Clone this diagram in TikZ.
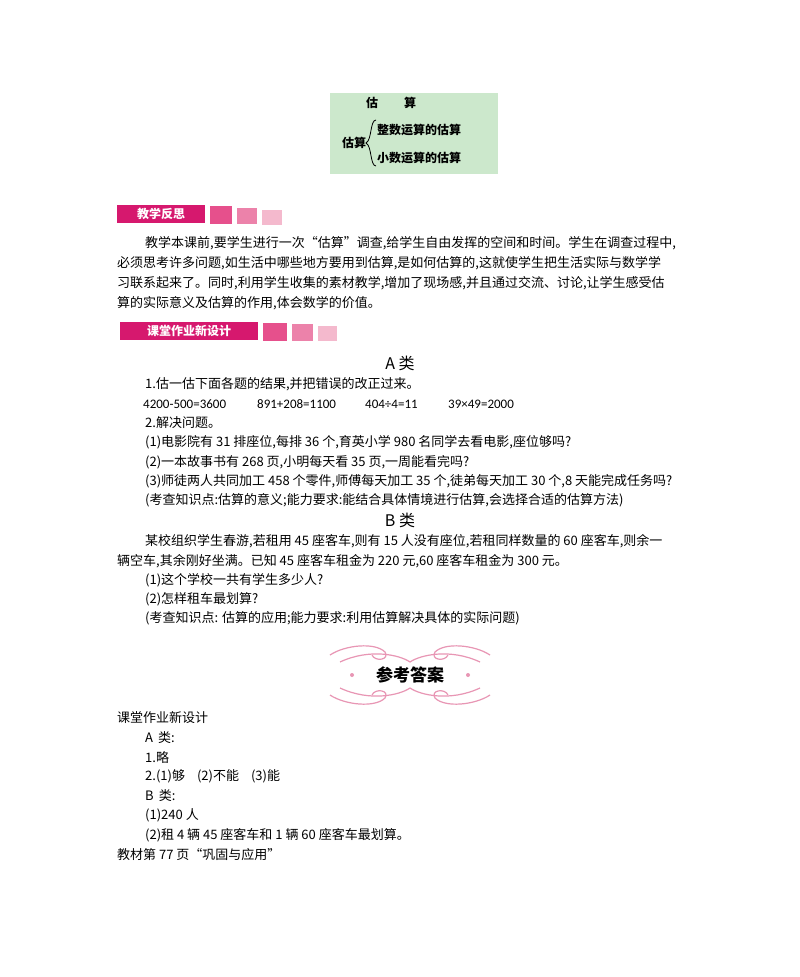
\documentclass[tikz,border=0pt]{standalone}
\usepackage{fontspec}
\setmainfont{Liberation Sans}
\newfontfamily\cjk{Noto Sans CJK SC}
\newfontfamily\carl{Carlito}
\definecolor{mag}{RGB}{214,24,110}
\definecolor{sq1}{RGB}{230,80,140}
\definecolor{sq2}{RGB}{236,130,170}
\definecolor{sq3}{RGB}{244,185,205}
\definecolor{lgreen}{RGB}{204,232,204}
\definecolor{orn}{RGB}{232,150,180}
\begin{document}
\begin{tikzpicture}[x=1pt,y=-1pt,
  txt/.style={anchor=west,inner sep=0pt,font=\cjk\fontsize{13}{15}\selectfont},
  num/.style={anchor=west,inner sep=0pt,font=\carl\fontsize{13}{15}\selectfont},
  hdr/.style={fill=mag,text=white,inner sep=0pt,font=\cjk\bfseries\fontsize{12}{14}\selectfont},
  sqa/.style={fill=sq1},sqb/.style={fill=sq2},sqc/.style={fill=sq3}]
\useasboundingbox (0,0) rectangle (800,977);
\fill[white] (0,0) rectangle (800,977);
% top box
\fill[lgreen] (330,93) rectangle (498,174);
\node[txt,font=\cjk\bfseries\fontsize{12}{14}\selectfont] (t0) at (366,103) {估};
\node[txt,font=\cjk\bfseries\fontsize{12}{14}\selectfont] (t0b) at (404,103) {算};
\node[txt,font=\cjk\bfseries\fontsize{12}{14}\selectfont] (t1) at (342,143) {估算};
\draw[thick] (376,120) .. controls (370,120) and (372,140) .. (366,143) .. controls (372,146) and (370,166) .. (376,166);
\node[txt,font=\cjk\bfseries\fontsize{12}{14}\selectfont] (t2) at (377,130) {整数运算的估算};
\node[txt,font=\cjk\bfseries\fontsize{12}{14}\selectfont] (t3) at (377,158) {小数运算的估算};
% header 1
\node[hdr,minimum width=88pt,minimum height=18pt] (h1) at (161,214) {教学反思};
\fill[sqa] (210,206) rectangle (232,224);
\fill[sqb] (237,208) rectangle (257,224);
\fill[sqc] (262,210) rectangle (282,225);
\node[txt] (p1) at (145,243) {教学本课前,要学生进行一次“估算”调查,给学生自由发挥的空间和时间。学生在调查过程中,};
\node[txt] (p2) at (117,263) {必须思考许多问题,如生活中哪些地方要用到估算,是如何估算的,这就使学生把生活实际与数学学};
\node[txt] (p3) at (117,283) {习联系起来了。同时,利用学生收集的素材教学,增加了现场感,并且通过交流、讨论,让学生感受估};
\node[txt] (p4) at (117,303) {算的实际意义及估算的作用,体会数学的价值。};
% header 2
\node[hdr,minimum width=138pt,minimum height=18pt] (h2) at (189,331) {课堂作业新设计};
\fill[sqa] (263,323) rectangle (287,341);
\fill[sqb] (292,324) rectangle (313,341);
\fill[sqc] (318,326) rectangle (337,341);
\node[font=\cjk\fontsize{16}{18}\selectfont] (a) at (400,363) {A 类};
\node[txt] (a1) at (145,384) {1.估一估下面各题的结果,并把错误的改正过来。};
\node[num] (a2) at (143,404) {4200-500=3600};
\node[num] (a2b) at (257,404) {891+208=1100};
\node[num] (a2c) at (365,404) {404÷4=11};
\node[num] (a2d) at (448,404) {39×49=2000};
\node[txt] (a3) at (145,423) {2.解决问题。};
\node[txt] (a4) at (145,442) {(1)电影院有 31 排座位,每排 36 个,育英小学 980 名同学去看电影,座位够吗?};
\node[txt] (a5) at (145,462) {(2)一本故事书有 268 页,小明每天看 35 页,一周能看完吗?};
\node[txt] (a6) at (145,481) {(3)师徒两人共同加工 458 个零件,师傅每天加工 35 个,徒弟每天加工 30 个,8 天能完成任务吗?};
\node[txt] (a7) at (145,500) {(考查知识点:估算的意义;能力要求:能结合具体情境进行估算,会选择合适的估算方法)};
\node[font=\cjk\fontsize{16}{18}\selectfont] (b) at (400,520) {B 类};
\node[txt] (b1) at (145,541) {某校组织学生春游,若租用 45 座客车,则有 15 人没有座位,若租同样数量的 60 座客车,则余一};
\node[txt] (b2) at (117,561) {辆空车,其余刚好坐满。已知 45 座客车租金为 220 元,60 座客车租金为 300 元。};
\node[txt] (b3) at (145,580) {(1)这个学校一共有学生多少人?};
\node[txt] (b4) at (145,599) {(2)怎样租车最划算?};
\node[txt] (b5) at (145,618) {(考查知识点: 估算的应用;能力要求:利用估算解决具体的实际问题)};
% ornament
\node[font=\cjk\bfseries\fontsize{17}{19}\selectfont] (ck) at (410,675) {参考答案};
\begin{scope}[orn,line width=1.2pt]
\draw (340,662) .. controls (370,648) and (400,655) .. (410,662) .. controls (420,655) and (450,648) .. (480,662);
\draw (340,688) .. controls (370,702) and (400,695) .. (410,688) .. controls (420,695) and (450,702) .. (480,688);
\draw (330,655) .. controls (345,645) and (375,642) .. (385,652) .. controls (390,660) and (375,662) .. (372,655);
\draw (490,655) .. controls (475,645) and (445,642) .. (435,652) .. controls (430,660) and (445,662) .. (448,655);
\draw (330,695) .. controls (345,705) and (375,708) .. (385,698) .. controls (390,690) and (375,688) .. (372,695);
\draw (490,695) .. controls (475,705) and (445,708) .. (435,698) .. controls (430,690) and (445,688) .. (448,695);
\fill (352,675) circle (2pt); \fill (468,675) circle (2pt);
\end{scope}
\node[txt] (c0) at (117,718) {课堂作业新设计};
\node[txt] (c1) at (145,738) {A\, 类:};
\node[txt] (c2) at (145,757) {1.略};
\node[txt] (c3) at (145,776) {2.(1)够\hspace{12pt}(2)不能\hspace{12pt}(3)能};
\node[txt] (c4) at (145,796) {B\, 类:};
\node[txt] (c5) at (145,815) {(1)240 人};
\node[txt] (c6) at (145,835) {(2)租 4 辆 45 座客车和 1 辆 60 座客车最划算。};
\node[txt] (c7) at (117,855) {教材第 77 页“巩固与应用”};
\end{tikzpicture}
\end{document}
